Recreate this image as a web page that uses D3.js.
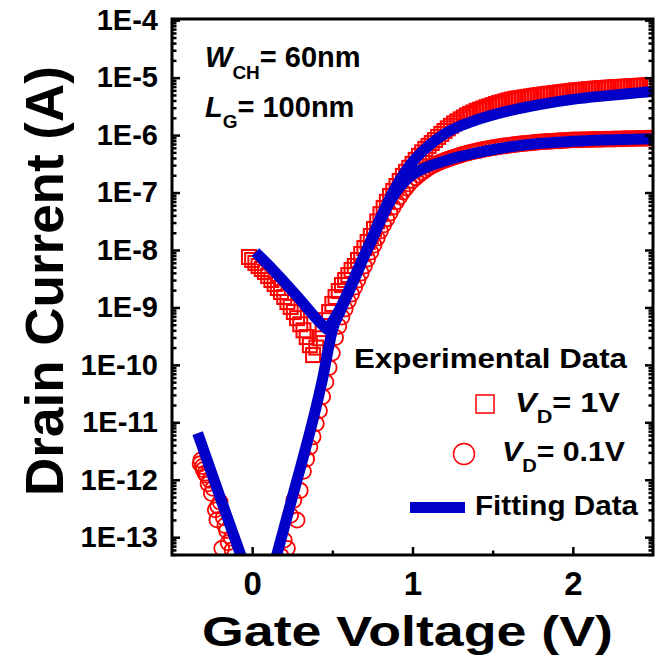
<!DOCTYPE html>
<html lang="en">
<head>
<meta charset="UTF-8">
<title>Drain Current vs Gate Voltage</title>
<script src="https://d3js.org/d3.v7.min.js"></script>
<style>
  body { margin: 0; background: #fff; }
  svg text { font-family: "Liberation Sans", Arial, sans-serif; font-weight: bold; fill: #000; }
</style>
</head>
<body>
<div id="chart"></div>
<script>
// gate sweep used for both measurements (V)
const sweepStep = 0.02;
const sweep1VStart = -0.02;
const sweep01VStart = 0.18;

// V_D = 1 V, measured drain current (A)
const id1V = [
  7.55e-9, 6.70e-9, 5.94e-9, 5.26e-9, 4.67e-9, 4.14e-9, 3.52e-9, 3.00e-9, 2.56e-9, 2.18e-9,
  1.85e-9, 1.52e-9, 1.24e-9, 1.02e-9, 8.3e-10, 6.5e-10, 5.1e-10, 4.0e-10, 3.05e-10, 2.2e-10,
  1.48e-10, 2.0e-10, 2.9e-10, 4.2e-10, 6.0e-10, 8.3e-10, 1.15e-9, 1.52e-9, 1.93e-9, 2.45e-9,
  3.0e-9, 3.66e-9, 4.5e-9, 5.26e-9, 6.7e-9, 8.5e-9, 1.08e-8, 1.38e-8, 1.75e-8, 2.32e-8,
  3.14e-8, 4.2e-8, 5.4e-8, 6.9e-8, 8.7e-8, 1.07e-7, 1.30e-7, 1.59e-7, 1.95e-7, 2.29e-7,
  2.69e-7, 3.15e-7, 3.7e-7, 4.35e-7, 5.0e-7, 5.75e-7, 6.5e-7, 7.3e-7, 8.2e-7, 9.3e-7,
  1.05e-6, 1.18e-6, 1.31e-6, 1.45e-6, 1.6e-6, 1.73e-6, 1.88e-6, 2.03e-6, 2.2e-6, 2.34e-6,
  2.48e-6, 2.64e-6, 2.77e-6, 2.9e-6, 3.05e-6, 3.18e-6, 3.33e-6, 3.47e-6, 3.61e-6, 3.74e-6,
  3.88e-6, 4.03e-6, 4.15e-6, 4.28e-6, 4.36e-6, 4.45e-6, 4.54e-6, 4.63e-6, 4.72e-6, 4.82e-6,
  4.92e-6, 5.0e-6, 5.09e-6, 5.18e-6, 5.26e-6, 5.35e-6, 5.43e-6, 5.52e-6, 5.61e-6, 5.7e-6,
  5.79e-6, 5.89e-6, 5.98e-6, 6.05e-6, 6.12e-6, 6.2e-6, 6.28e-6, 6.35e-6, 6.43e-6, 6.5e-6,
  6.57e-6, 6.62e-6, 6.67e-6, 6.73e-6, 6.78e-6, 6.83e-6, 6.88e-6, 6.94e-6, 7.0e-6, 7.05e-6,
  7.11e-6, 7.16e-6, 7.22e-6, 7.27e-6, 7.33e-6, 7.39e-6, 7.44e-6
];

// V_D = 0.1 V, measured drain current (A), from 0.18 V on
const id01V = [
  4.7e-14, 8.9e-14, 6.4e-14, 2.4e-13, 4.4e-13, 1.98e-13, 6.5e-13, 1.4e-12, 2.3e-12, 3.7e-12,
  5.6e-12, 9.5e-12, 1.6e-11, 2.8e-11, 5.0e-11, 9.0e-11, 1.6e-10, 3.0e-10, 4.7e-10, 6.8e-10,
  9.4e-10, 1.29e-9, 1.71e-9, 2.26e-9, 3.0e-9, 3.97e-9, 5.26e-9, 6.97e-9, 9.2e-9, 1.22e-8,
  1.62e-8, 2.14e-8, 2.73e-8, 3.47e-8, 4.4e-8, 5.6e-8, 6.9e-8, 8.4e-8, 1.02e-7, 1.2e-7,
  1.41e-7, 1.62e-7, 1.81e-7, 2.01e-7, 2.22e-7, 2.44e-7, 2.66e-7, 2.88e-7, 3.08e-7, 3.27e-7,
  3.45e-7, 3.62e-7, 3.8e-7, 3.97e-7, 4.15e-7, 4.32e-7, 4.5e-7, 4.67e-7, 4.84e-7, 5.0e-7,
  5.16e-7, 5.3e-7, 5.46e-7, 5.61e-7, 5.75e-7, 5.89e-7, 6.03e-7, 6.15e-7, 6.28e-7, 6.41e-7,
  6.53e-7, 6.64e-7, 6.75e-7, 6.86e-7, 6.97e-7, 7.08e-7, 7.16e-7, 7.26e-7, 7.35e-7, 7.43e-7,
  7.52e-7, 7.62e-7, 7.68e-7, 7.74e-7, 7.8e-7, 7.86e-7, 7.92e-7, 7.98e-7, 8.04e-7, 8.1e-7,
  8.16e-7, 8.24e-7, 8.26e-7, 8.29e-7, 8.31e-7, 8.34e-7, 8.36e-7, 8.39e-7, 8.41e-7, 8.44e-7,
  8.46e-7, 8.49e-7, 8.51e-7, 8.54e-7, 8.56e-7, 8.59e-7, 8.61e-7, 8.64e-7, 8.66e-7, 8.69e-7,
  8.71e-7, 8.74e-7, 8.76e-7, 8.79e-7, 8.81e-7, 8.84e-7, 8.86e-7
];

// V_D = 0.1 V, negative-gate leakage points
const vg01VLeak = [-0.325, -0.32, -0.31, -0.305, -0.295, -0.285, -0.275, -0.265, -0.255, -0.245, -0.23,
  -0.22, -0.215, -0.20, -0.19, -0.18, -0.17, -0.16, -0.15, -0.13, -0.125];
const id01VLeak = [1.9e-12, 2.2e-12, 1.7e-12, 1.5e-12, 1.3e-12, 1.2e-12, 8.5e-13, 9.8e-13, 5.8e-13, 7.1e-13, 3.0e-13,
  2.0e-13, 3.5e-13, 4.1e-13, 6.4e-14, 2.2e-13, 1.6e-13, 1.3e-13, 8.0e-14, 9.6e-14, 6.0e-14];

// fitting curves
const fit1VVg = [0.02, 0.1, 0.2, 0.3, 0.38, 0.44, 0.47, 0.50, 0.55, 0.60, 0.65, 0.70, 0.75, 0.80,
  0.85, 0.90, 0.95, 1.00, 1.10, 1.20, 1.30, 1.40, 1.60, 1.80, 2.00, 2.20, 2.40, 2.50];
const fit1VId = [9.2e-9, 5.5e-9, 2.77e-9, 1.35e-9, 7.4e-10, 4.9e-10, 4.2e-10, 5.6e-10, 9.8e-10, 1.93e-9,
  4.0e-9, 8.2e-9, 1.68e-8, 3.6e-8, 7.1e-8, 1.3e-7, 2.2e-7, 3.4e-7, 6.5e-7, 1.05e-6, 1.45e-6, 1.84e-6,
  2.64e-6, 3.43e-6, 4.19e-6, 4.82e-6, 5.43e-6, 5.77e-6];
const fit01VLeftVg = [-0.34, -0.2, -0.06];
const fit01VLeftId = [6.5e-12, 4.98e-13, 4.0e-14];
const fit01VVg = [0.14, 0.20, 0.25, 0.30, 0.35, 0.40, 0.44, 0.48, 0.50, 0.55, 0.60, 0.65, 0.70, 0.75,
  0.80, 0.85, 0.90, 0.95, 1.00, 1.10, 1.20, 1.30, 1.40, 1.60, 1.80, 2.00, 2.20, 2.50];
const fit01VId = [3.6e-14, 1.49e-13, 4.9e-13, 1.59e-12, 5.3e-12, 1.91e-11, 5.9e-11, 2.2e-10, 4.0e-10, 8.6e-10,
  1.78e-9, 3.7e-9, 7.9e-9, 1.56e-8, 3.2e-8, 6.2e-8, 1.05e-7, 1.55e-7, 2.05e-7, 2.85e-7, 3.55e-7, 4.25e-7,
  4.9e-7, 6.2e-7, 7.2e-7, 7.8e-7, 8.2e-7, 8.6e-7];

const xTicks = [0, 1, 2];
const xMinorTicks = [0.5, 1.5];
const yTicks = [1e-13, 1e-12, 1e-11, 1e-10, 1e-9, 1e-8, 1e-7, 1e-6, 1e-5, 1e-4];

const red = "#ff0000", blue = "#0000c8";
const plotLeft = 172, plotRight = 653, plotTop = 19, plotBottom = 555;

const svg = d3.select("#chart").append("svg")
  .attr("width", 670)
  .attr("height", 665);

const x = d3.scaleLinear().domain([-0.5, 2.5]).range([plotLeft, plotRight]);
const y = d3.scaleLog().domain([4.9e-14, 1.05e-4]).range([plotBottom, plotTop]);

svg.append("clipPath").attr("id", "plotArea")
  .append("rect")
  .attr("x", plotLeft).attr("y", plotTop)
  .attr("width", plotRight - plotLeft).attr("height", plotBottom - plotTop);

const plot = svg.append("g").attr("clip-path", "url(#plotArea)");

const sq = id1V.map((v, i) => ({ v: sweep1VStart + i * sweepStep, i: v }));
const ci = vg01VLeak.map((v, i) => ({ v: v, i: id01VLeak[i] }))
  .concat(id01V.map((v, i) => ({ v: sweep01VStart + i * sweepStep, i: v })));

plot.selectAll("rect.sq").data(sq).join("rect")
  .attr("class", "sq")
  .attr("x", d => x(d.v) - 7)
  .attr("y", d => y(d.i) - 7)
  .attr("width", 14).attr("height", 14)
  .attr("fill", "none")
  .attr("stroke", red)
  .attr("stroke-width", 2);

plot.selectAll("circle.ci").data(ci).join("circle")
  .attr("class", "ci")
  .attr("cx", d => x(d.v))
  .attr("cy", d => y(d.i))
  .attr("r", 7.5)
  .attr("fill", "none")
  .attr("stroke", red)
  .attr("stroke-width", 1.8);

const line = d3.line()
  .x(d => x(d.v))
  .y(d => y(d.i))
  .curve(d3.curveMonotoneX);

const fits = [
  fit1VVg.map((v, i) => ({ v: v, i: fit1VId[i] })),
  fit01VLeftVg.map((v, i) => ({ v: v, i: fit01VLeftId[i] })),
  fit01VVg.map((v, i) => ({ v: v, i: fit01VId[i] }))
];

plot.selectAll("path.fit").data(fits).join("path")
  .attr("class", "fit")
  .attr("d", line)
  .attr("fill", "none")
  .attr("stroke", blue)
  .attr("stroke-width", 11);

// axes - ticks point inward
const minor = [];
for (let k = -14; k <= -5; k++) {
  for (let m = 2; m <= 9; m++) {
    const v = m * Math.pow(10, k);
    if (v > 4.9e-14 && v < 1.05e-4) minor.push(v);
  }
}

function styleAxis(g) {
  g.select(".domain").remove();
  g.selectAll(".tick line").attr("stroke", "#000").attr("stroke-width", 2.5);
}

svg.append("g")
  .attr("transform", `translate(${plotLeft},0)`)
  .call(d3.axisLeft(y).tickValues(yTicks).tickSize(-8).tickPadding(14)
    .tickFormat(d => "1E" + Math.round(Math.log10(d))))
  .call(styleAxis)
  .selectAll("text").attr("font-size", 29).attr("font-family", null);

svg.append("g")
  .attr("transform", `translate(${plotLeft},0)`)
  .call(d3.axisLeft(y).tickValues(minor).tickSize(-4.5).tickFormat(""))
  .call(styleAxis);

svg.append("g")
  .attr("transform", `translate(${plotRight},0)`)
  .call(d3.axisRight(y).tickValues(yTicks).tickSize(-8).tickFormat(""))
  .call(styleAxis);

svg.append("g")
  .attr("transform", `translate(${plotRight},0)`)
  .call(d3.axisRight(y).tickValues(minor).tickSize(-4.5).tickFormat(""))
  .call(styleAxis);

svg.append("g")
  .attr("transform", `translate(0,${plotBottom})`)
  .call(d3.axisBottom(x).tickValues(xTicks).tickSize(-8).tickPadding(17).tickFormat(d3.format("d")))
  .call(styleAxis)
  .selectAll("text").attr("font-size", 33).attr("font-family", null);

svg.append("g")
  .attr("transform", `translate(0,${plotBottom})`)
  .call(d3.axisBottom(x).tickValues(xMinorTicks).tickSize(-4.5).tickFormat(""))
  .call(styleAxis);

svg.append("rect")
  .attr("x", plotLeft).attr("y", plotTop)
  .attr("width", plotRight - plotLeft).attr("height", plotBottom - plotTop)
  .attr("fill", "none")
  .attr("stroke", "#000")
  .attr("stroke-width", 3);

// axis titles
svg.append("text")
  .attr("x", 202).attr("y", 646)
  .attr("font-size", 42)
  .attr("textLength", 411)
  .attr("lengthAdjust", "spacingAndGlyphs")
  .text("Gate Voltage (V)");

svg.append("text")
  .attr("transform", "translate(63,281) rotate(-90)")
  .attr("text-anchor", "middle")
  .attr("font-size", 53)
  .text("Drain Current (A)");

// device annotation
const wText = svg.append("text").attr("x", 205).attr("y", 67).attr("font-size", 29);
wText.append("tspan").attr("font-style", "italic").text("W");
wText.append("tspan").attr("font-size", 19).attr("dy", 12).text("CH");
wText.append("tspan").attr("dy", -12).text("= 60nm");

const lText = svg.append("text").attr("x", 205).attr("y", 117).attr("font-size", 29);
lText.append("tspan").attr("font-style", "italic").text("L");
lText.append("tspan").attr("font-size", 19).attr("dy", 11).text("G");
lText.append("tspan").attr("dy", -11).text("= 100nm");

// legend
svg.append("text")
  .attr("x", 354).attr("y", 368)
  .attr("font-size", 27)
  .attr("textLength", 273)
  .attr("lengthAdjust", "spacingAndGlyphs")
  .text("Experimental Data");

svg.append("rect")
  .attr("x", 476).attr("y", 395)
  .attr("width", 18).attr("height", 18)
  .attr("fill", "none").attr("stroke", red).attr("stroke-width", 1.5);

const l1 = svg.append("text").attr("x", 515).attr("y", 412).attr("font-size", 27)
  .attr("textLength", 105).attr("lengthAdjust", "spacingAndGlyphs");
l1.append("tspan").attr("font-style", "italic").text("V");
l1.append("tspan").attr("font-size", 18).attr("dy", 11).text("D");
l1.append("tspan").attr("dy", -11).text("= 1V");

svg.append("circle")
  .attr("cx", 464).attr("cy", 454).attr("r", 10.5)
  .attr("fill", "none").attr("stroke", red).attr("stroke-width", 1.5);

const l2 = svg.append("text").attr("x", 502).attr("y", 461).attr("font-size", 27)
  .attr("textLength", 123).attr("lengthAdjust", "spacingAndGlyphs");
l2.append("tspan").attr("font-style", "italic").text("V");
l2.append("tspan").attr("font-size", 18).attr("dy", 11).text("D");
l2.append("tspan").attr("dy", -11).text("= 0.1V");

svg.append("line")
  .attr("x1", 410).attr("x2", 465)
  .attr("y1", 507.5).attr("y2", 507.5)
  .attr("stroke", blue).attr("stroke-width", 11);

svg.append("text")
  .attr("x", 475).attr("y", 515)
  .attr("font-size", 27)
  .attr("textLength", 163)
  .attr("lengthAdjust", "spacingAndGlyphs")
  .text("Fitting Data");
</script>
</body>
</html>
